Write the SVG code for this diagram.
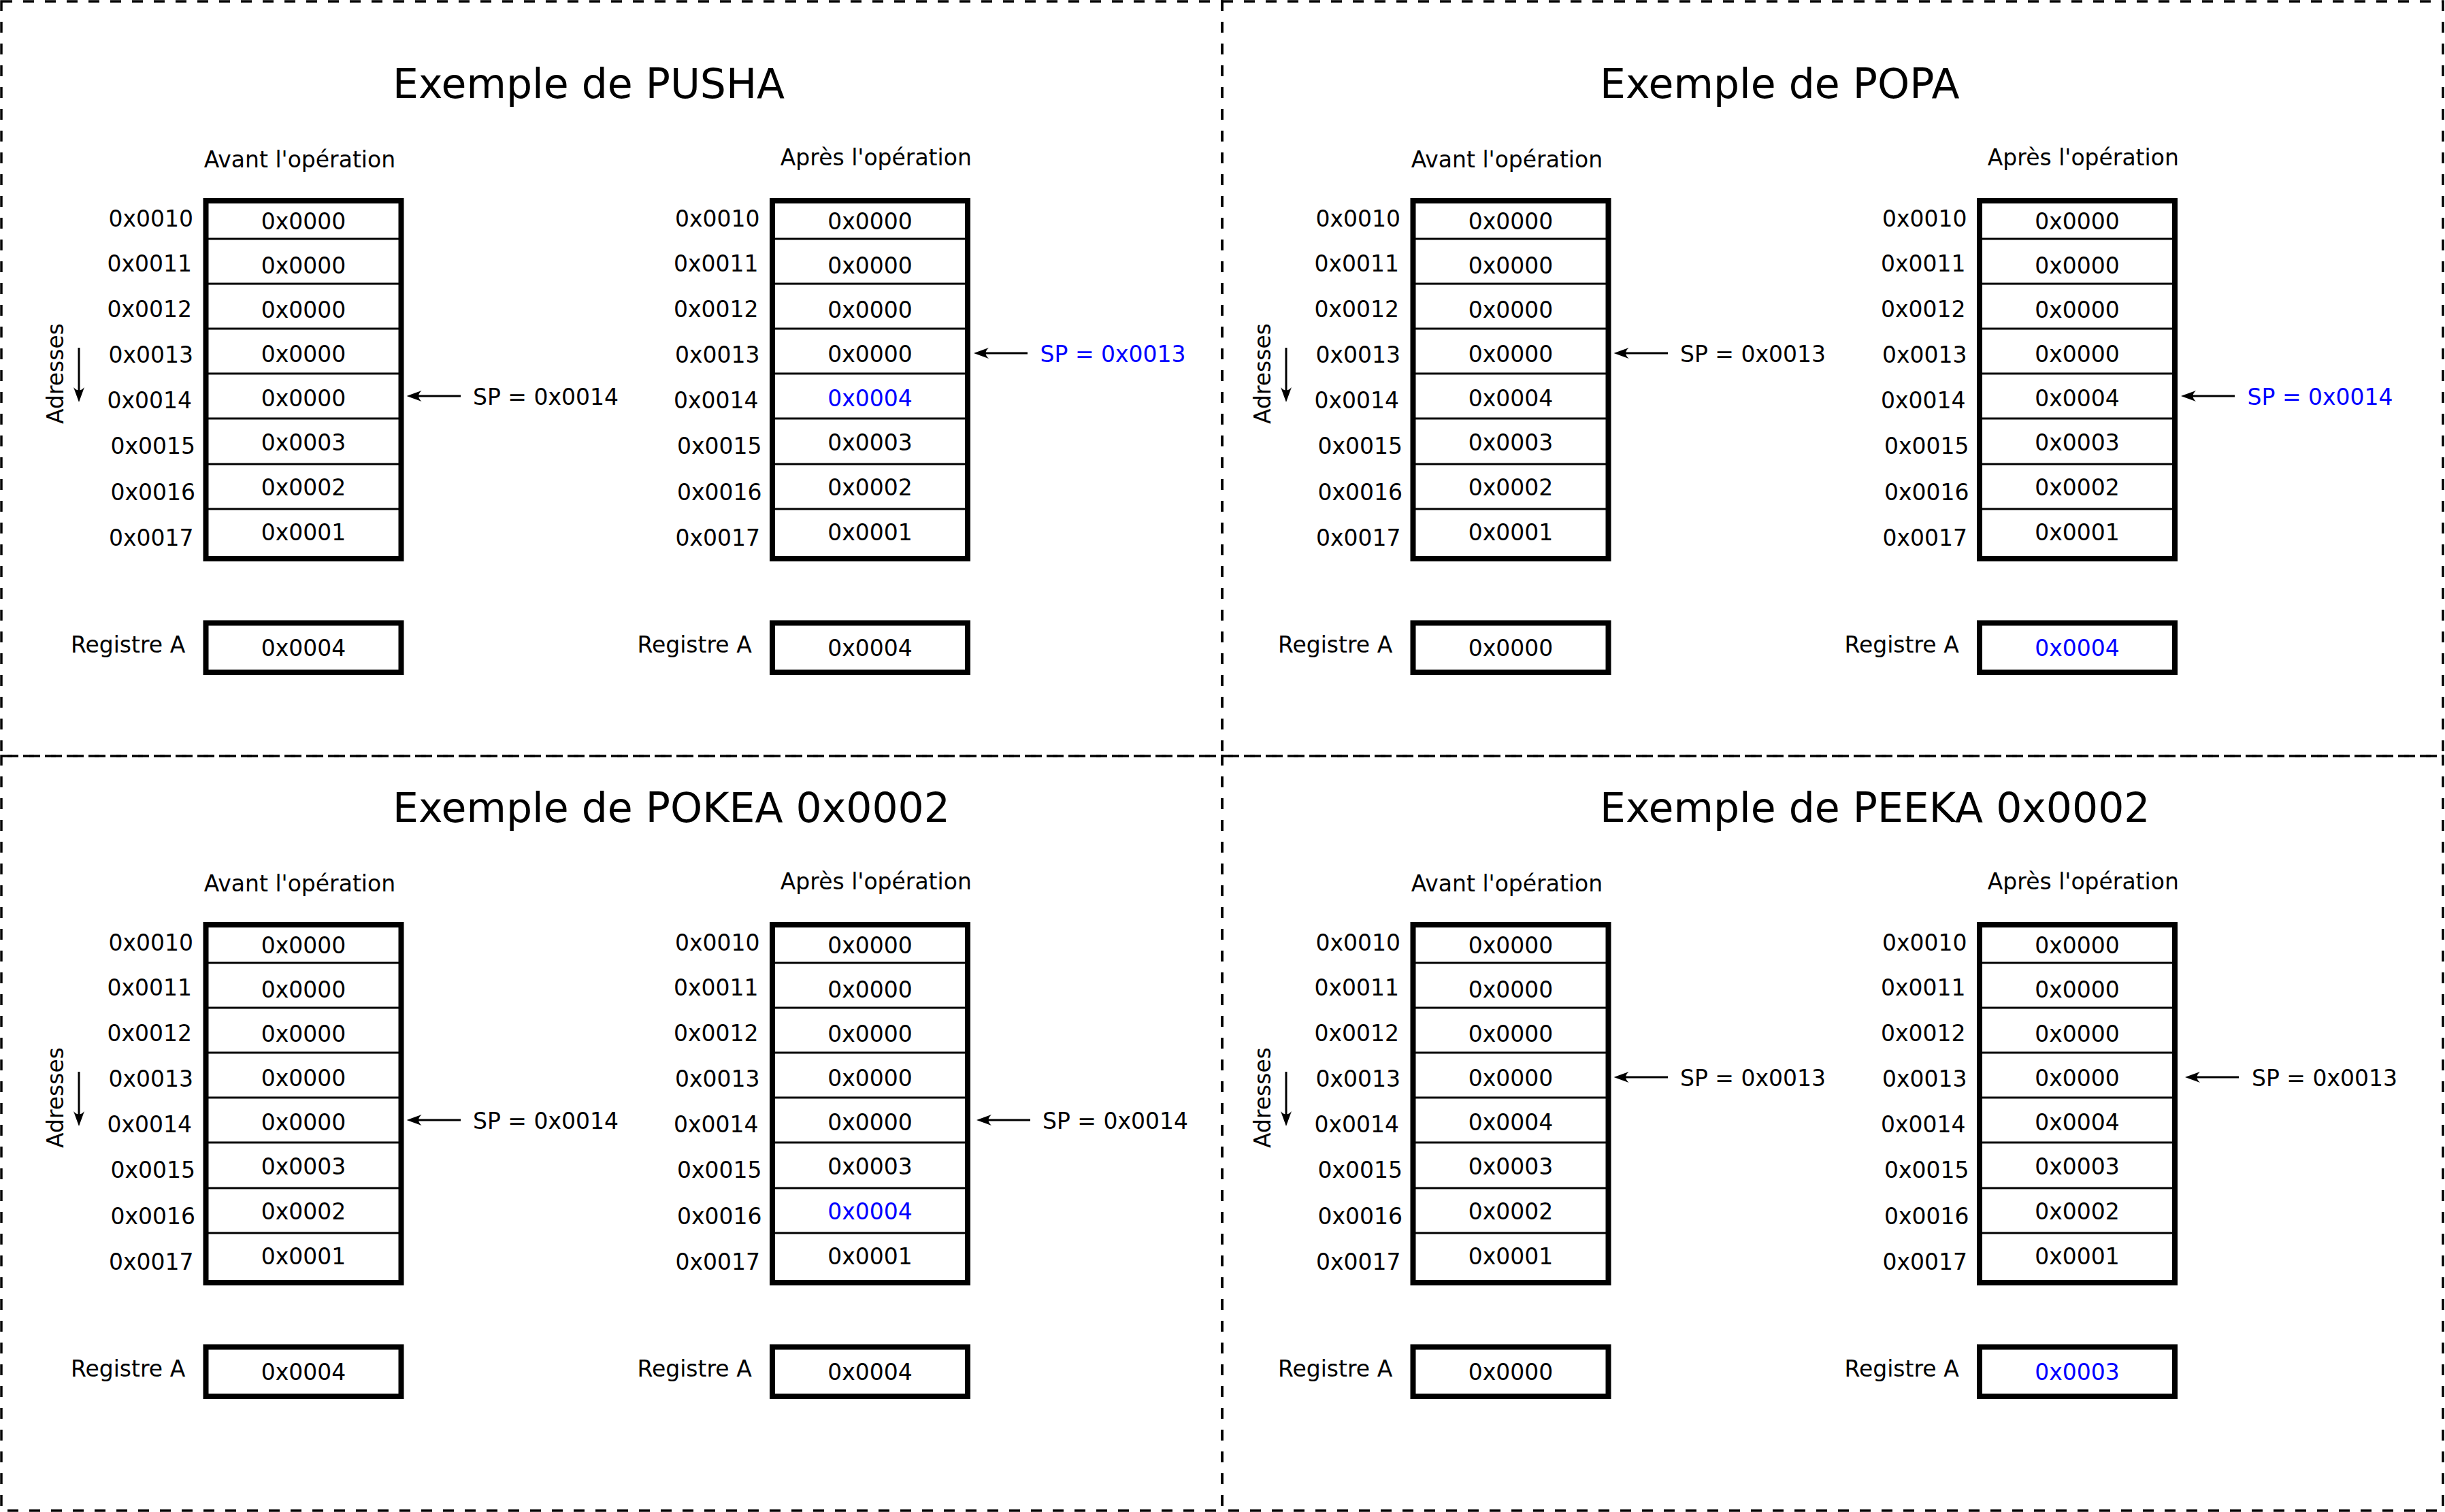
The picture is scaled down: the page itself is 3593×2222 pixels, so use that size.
<svg xmlns="http://www.w3.org/2000/svg" xmlns:xlink="http://www.w3.org/1999/xlink" width="3593" height="2222" viewBox="0 0 3593 2222">
<style>
.t{font-family:"DejaVu Sans","Liberation Sans",sans-serif;font-size:33px;fill:#000}
.v{text-anchor:middle}
.blue{fill:#0000ff}
.title{font-size:60px}
.box{fill:#fff;stroke:#000;stroke-width:8}
.sep{fill:none;stroke:#000;stroke-width:3}
.conn{fill:none;stroke:#000;stroke-width:3;marker-end:url(#ah)}
.frame{fill:none;stroke:#000;stroke-width:3.5;stroke-dasharray:16 16}
</style>
<defs>
<marker id="ah" markerUnits="userSpaceOnUse" refX="-12" refY="0" orient="auto" overflow="visible" markerWidth="1" markerHeight="1">
<path d="M0,0 L-22,-8 C-16,-3 -16,3 -22,8 Z" fill="#000"/>
</marker>
<g id="addrs">
<text class="t" x="159.4" y="332.6">0x0010</text>
<text class="t" x="157.5" y="398.7">0x0011</text>
<text class="t" x="157.5" y="465.6">0x0012</text>
<text class="t" x="159.4" y="533.3">0x0013</text>
<text class="t" x="157.5" y="600">0x0014</text>
<text class="t" x="162.6" y="667">0x0015</text>
<text class="t" x="162.6" y="734.5">0x0016</text>
<text class="t" x="160" y="801.6">0x0017</text>
</g>
<g id="stackframe">
<rect class="box" x="302.5" y="295" width="287" height="526"/>
<path class="sep" d="M302.5,351H589.5M302.5,417H589.5M302.5,483H589.5M302.5,549H589.5M302.5,615H589.5M302.5,682H589.5M302.5,748H589.5"/>
</g>
<g id="regframe">
<rect class="box" x="302.5" y="915.5" width="287" height="72.5"/>
<text class="t" x="104" y="958.5">Registre A</text>
</g>
</defs>
<rect width="3593" height="2222" fill="#fff"/>
<g id="frames">
<rect class="frame" x="2" y="2" width="1794" height="1109"/>
<rect class="frame" x="1796" y="2" width="1794" height="1109"/>
<rect class="frame" x="2" y="1111" width="1794" height="1109"/>
<rect class="frame" x="1796" y="1111" width="1794" height="1109"/>
</g>

<!-- PUSHA -->
<g id="panel-pusha">
<text class="t title" x="577" y="144">Exemple de PUSHA</text>
<text class="t" x="299.7" y="245.5">Avant l'opération</text>
<text class="t" x="1146.8" y="243">Après l'opération</text>
<text class="t" transform="translate(93,623) rotate(-90)">Adresses</text>
<g id="pusha-avant-pile">
<use xlink:href="#addrs"/>
<use xlink:href="#stackframe"/>
<text class="t v" x="446" y="337">0x0000</text>
<text class="t v" x="446" y="401.5">0x0000</text>
<text class="t v" x="446" y="467">0x0000</text>
<text class="t v" x="446" y="532">0x0000</text>
<text class="t v" x="446" y="596.5">0x0000</text>
<text class="t v" x="446" y="662">0x0003</text>
<text class="t v" x="446" y="727.5">0x0002</text>
<text class="t v" x="446" y="793.5">0x0001</text>
</g>
<g id="pusha-avant-sp"><text class="t" x="695" y="594.5">SP = 0x0014</text></g>
<g id="pusha-avant-rega">
<use xlink:href="#regframe"/>
<text class="t v" x="446" y="963.5">0x0004</text>
</g>
<g id="pusha-apres-pile" transform="translate(832.5,0)">
<use xlink:href="#addrs"/>
<use xlink:href="#stackframe"/>
<text class="t v" x="446" y="337">0x0000</text>
<text class="t v" x="446" y="401.5">0x0000</text>
<text class="t v" x="446" y="467">0x0000</text>
<text class="t v" x="446" y="532">0x0000</text>
<text class="t v blue" x="446" y="596.5">0x0004</text>
<text class="t v" x="446" y="662">0x0003</text>
<text class="t v" x="446" y="727.5">0x0002</text>
<text class="t v" x="446" y="793.5">0x0001</text>
</g>
<g id="pusha-apres-sp"><text class="t blue" x="1528.6" y="531.5">SP = 0x0013</text></g>
<g id="pusha-apres-rega" transform="translate(832.5,0)">
<use xlink:href="#regframe"/>
<text class="t v" x="446" y="963.5">0x0004</text>
</g>
</g>

<!-- POPA -->
<g id="panel-popa" transform="translate(1774,0)">
<text class="t title" x="577" y="144">Exemple de POPA</text>
<text class="t" x="299.7" y="245.5">Avant l'opération</text>
<text class="t" x="1146.8" y="243">Après l'opération</text>
<text class="t" transform="translate(93,623) rotate(-90)">Adresses</text>
<g id="popa-avant-pile">
<use xlink:href="#addrs"/>
<use xlink:href="#stackframe"/>
<text class="t v" x="446" y="337">0x0000</text>
<text class="t v" x="446" y="401.5">0x0000</text>
<text class="t v" x="446" y="467">0x0000</text>
<text class="t v" x="446" y="532">0x0000</text>
<text class="t v" x="446" y="596.5">0x0004</text>
<text class="t v" x="446" y="662">0x0003</text>
<text class="t v" x="446" y="727.5">0x0002</text>
<text class="t v" x="446" y="793.5">0x0001</text>
</g>
<g id="popa-avant-sp"><text class="t" x="695" y="531.5">SP = 0x0013</text></g>
<g id="popa-avant-rega">
<use xlink:href="#regframe"/>
<text class="t v" x="446" y="963.5">0x0000</text>
</g>
<g id="popa-apres-pile" transform="translate(832.5,0)">
<use xlink:href="#addrs"/>
<use xlink:href="#stackframe"/>
<text class="t v" x="446" y="337">0x0000</text>
<text class="t v" x="446" y="401.5">0x0000</text>
<text class="t v" x="446" y="467">0x0000</text>
<text class="t v" x="446" y="532">0x0000</text>
<text class="t v" x="446" y="596.5">0x0004</text>
<text class="t v" x="446" y="662">0x0003</text>
<text class="t v" x="446" y="727.5">0x0002</text>
<text class="t v" x="446" y="793.5">0x0001</text>
</g>
<g id="popa-apres-sp"><text class="t blue" x="1528.6" y="594.5">SP = 0x0014</text></g>
<g id="popa-apres-rega" transform="translate(832.5,0)">
<use xlink:href="#regframe"/>
<text class="t v blue" x="446" y="963.5">0x0004</text>
</g>
</g>

<!-- POKEA -->
<g id="panel-pokea" transform="translate(0,1064)">
<text class="t title" x="577" y="144">Exemple de POKEA 0x0002</text>
<text class="t" x="299.7" y="245.5">Avant l'opération</text>
<text class="t" x="1146.8" y="243">Après l'opération</text>
<text class="t" transform="translate(93,623) rotate(-90)">Adresses</text>
<g id="pokea-avant-pile">
<use xlink:href="#addrs"/>
<use xlink:href="#stackframe"/>
<text class="t v" x="446" y="337">0x0000</text>
<text class="t v" x="446" y="401.5">0x0000</text>
<text class="t v" x="446" y="467">0x0000</text>
<text class="t v" x="446" y="532">0x0000</text>
<text class="t v" x="446" y="596.5">0x0000</text>
<text class="t v" x="446" y="662">0x0003</text>
<text class="t v" x="446" y="727.5">0x0002</text>
<text class="t v" x="446" y="793.5">0x0001</text>
</g>
<g id="pokea-avant-sp"><text class="t" x="695" y="594.5">SP = 0x0014</text></g>
<g id="pokea-avant-rega">
<use xlink:href="#regframe"/>
<text class="t v" x="446" y="963.5">0x0004</text>
</g>
<g id="pokea-apres-pile" transform="translate(832.5,0)">
<use xlink:href="#addrs"/>
<use xlink:href="#stackframe"/>
<text class="t v" x="446" y="337">0x0000</text>
<text class="t v" x="446" y="401.5">0x0000</text>
<text class="t v" x="446" y="467">0x0000</text>
<text class="t v" x="446" y="532">0x0000</text>
<text class="t v" x="446" y="596.5">0x0000</text>
<text class="t v" x="446" y="662">0x0003</text>
<text class="t v blue" x="446" y="727.5">0x0004</text>
<text class="t v" x="446" y="793.5">0x0001</text>
</g>
<g id="pokea-apres-sp"><text class="t" x="1532" y="594.5">SP = 0x0014</text></g>
<g id="pokea-apres-rega" transform="translate(832.5,0)">
<use xlink:href="#regframe"/>
<text class="t v" x="446" y="963.5">0x0004</text>
</g>
</g>

<!-- PEEKA -->
<g id="panel-peeka" transform="translate(1774,1064)">
<text class="t title" x="577" y="144">Exemple de PEEKA 0x0002</text>
<text class="t" x="299.7" y="245.5">Avant l'opération</text>
<text class="t" x="1146.8" y="243">Après l'opération</text>
<text class="t" transform="translate(93,623) rotate(-90)">Adresses</text>
<g id="peeka-avant-pile">
<use xlink:href="#addrs"/>
<use xlink:href="#stackframe"/>
<text class="t v" x="446" y="337">0x0000</text>
<text class="t v" x="446" y="401.5">0x0000</text>
<text class="t v" x="446" y="467">0x0000</text>
<text class="t v" x="446" y="532">0x0000</text>
<text class="t v" x="446" y="596.5">0x0004</text>
<text class="t v" x="446" y="662">0x0003</text>
<text class="t v" x="446" y="727.5">0x0002</text>
<text class="t v" x="446" y="793.5">0x0001</text>
</g>
<g id="peeka-avant-sp"><text class="t" x="695" y="531.5">SP = 0x0013</text></g>
<g id="peeka-avant-rega">
<use xlink:href="#regframe"/>
<text class="t v" x="446" y="963.5">0x0000</text>
</g>
<g id="peeka-apres-pile" transform="translate(832.5,0)">
<use xlink:href="#addrs"/>
<use xlink:href="#stackframe"/>
<text class="t v" x="446" y="337">0x0000</text>
<text class="t v" x="446" y="401.5">0x0000</text>
<text class="t v" x="446" y="467">0x0000</text>
<text class="t v" x="446" y="532">0x0000</text>
<text class="t v" x="446" y="596.5">0x0004</text>
<text class="t v" x="446" y="662">0x0003</text>
<text class="t v" x="446" y="727.5">0x0002</text>
<text class="t v" x="446" y="793.5">0x0001</text>
</g>
<g id="peeka-apres-sp"><text class="t" x="1535" y="531.5">SP = 0x0013</text></g>
<g id="peeka-apres-rega" transform="translate(832.5,0)">
<use xlink:href="#regframe"/>
<text class="t v blue" x="446" y="963.5">0x0003</text>
</g>
</g>

<g id="connectors">
<path class="conn" d="M677,582H609.6"/>
<path class="conn" d="M1510,519H1443"/>
<path class="conn" d="M116,511V579"/>
<path class="conn" d="M2451,519H2383.6"/>
<path class="conn" d="M3284,582H3217"/>
<path class="conn" d="M1890,511V579"/>
<path class="conn" d="M677,1646H609.6"/>
<path class="conn" d="M1514,1646H1447"/>
<path class="conn" d="M116,1575V1643"/>
<path class="conn" d="M2451,1583H2383.6"/>
<path class="conn" d="M3290,1583H3223"/>
<path class="conn" d="M1890,1575V1643"/>
</g>
</svg>
